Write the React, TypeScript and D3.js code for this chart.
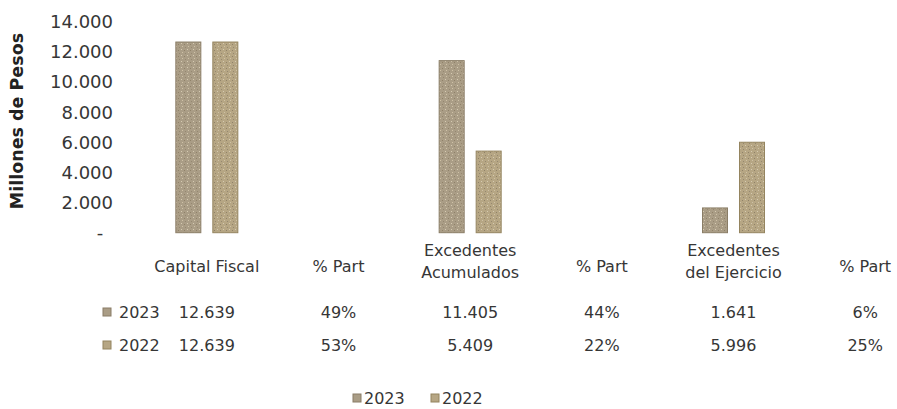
import * as d3 from 'd3';

// Data
const categories = [
  'Capital Fiscal',
  '% Part',
  'Excedentes Acumulados',
  '% Part ',
  'Excedentes del Ejercicio',
  '% Part  ',
];
const headerLines = [
  ['Capital Fiscal'],
  ['% Part'],
  ['Excedentes', 'Acumulados'],
  ['% Part'],
  ['Excedentes', 'del Ejercicio'],
  ['% Part'],
];
const seriesNames = ['2023', '2022'];
const values2023 = [12639, 0.49, 11405, 0.44, 1641, 0.06];
const values2022 = [12639, 0.53, 5409, 0.22, 5996, 0.25];
const labels2023 = ['12.639', '49%', '11.405', '44%', '1.641', '6%'];
const labels2022 = ['12.639', '53%', '5.409', '22%', '5.996', '25%'];
const yTicks = [0, 2000, 4000, 6000, 8000, 10000, 12000, 14000];

const W = 897;
const H = 409;
const FONT = '"DejaVu Sans", sans-serif';
const TEXT = '#363636';
const fills = ['#aa9d86', '#b6a684'];
const edges = ['#8a7d66', '#94845f'];

export default function App() {
  const x = d3.scaleBand<string>().domain(categories).range([141, 931]).padding(0);
  const step = x.step();
  const groupW = 62;
  const xSub = d3
    .scaleBand<string>()
    .domain(seriesNames)
    .range([(step - groupW) / 2, (step + groupW) / 2])
    .paddingInner(12 / 37);
  const y = d3.scaleLinear().domain([0, 14000]).range([232.7, 21.5]);
  const fmt = (v: number) => (v === 0 ? '-' : d3.format(',')(v).replace(/,/g, '.'));

  const series = [values2023, values2022];
  const rowLabels = [labels2023, labels2022];
  const rowY = [318, 351];

  return (
    <svg
      width={W}
      height={H}
      style={{ position: 'absolute', left: 0, top: 0, background: '#fff' }}
      fontFamily={FONT}
    >
      <defs>
        {fills.map((c, i) => (
          <pattern key={i} id={`tex${i}`} width={6} height={6} patternUnits="userSpaceOnUse">
            <rect width={6} height={6} fill={c} />
            <rect x={1} y={1} width={1} height={1} fill="#d6cbb2" />
            <rect x={4} y={2} width={1} height={1} fill="#8f8168" />
            <rect x={2} y={4} width={1} height={1} fill="#cfc2a6" />
            <rect x={5} y={5} width={1} height={1} fill="#958870" />
          </pattern>
        ))}
      </defs>

      {/* Y axis title */}
      <text
        transform={`translate(23, ${y(7400)}) rotate(-90)`}
        textAnchor="middle"
        fontSize={17.5}
        fontWeight="bold"
        fill="#222"
      >
        Millones de Pesos
      </text>

      {/* Y ticks */}
      {yTicks.map((t) => (
        <text
          key={t}
          x={t === 0 ? 100 : 113}
          y={y(t)}
          textAnchor={t === 0 ? 'middle' : 'end'}
          dominantBaseline="central"
          fontSize={18}
          fill={TEXT}
        >
          {fmt(t)}
        </text>
      ))}

      {/* Bars */}
      {categories.map((cat, ci) =>
        series.map((vals, si) => {
          const bx = (x(cat) ?? 0) + (xSub(seriesNames[si]) ?? 0);
          const top = y(vals[ci]);
          const h = y(0) - top;
          if (h < 1) return null;
          return (
            <rect
              key={`${ci}-${si}`}
              x={bx}
              y={top}
              width={xSub.bandwidth()}
              height={h}
              fill={`url(#tex${si})`}
              stroke={edges[si]}
              strokeWidth={1}
            />
          );
        })
      )}

      {/* Data table header */}
      {categories.map((cat, ci) => {
        const cx = (x(cat) ?? 0) + step / 2;
        const lines = headerLines[ci];
        const y0 = lines.length === 1 ? 272 : 256;
        return (
          <text key={cat} x={cx} y={y0} textAnchor="middle" fontSize={16} fill={TEXT}>
            {lines.map((l, li) => (
              <tspan key={li} x={cx} y={y0 + li * 22}>
                {l}
              </tspan>
            ))}
          </text>
        );
      })}

      {/* Data table rows */}
      {rowLabels.map((row, ri) => (
        <g key={ri}>
          <rect x={103} y={rowY[ri] - 10} width={8} height={8} fill={fills[ri]} stroke={edges[ri]} />
          <text x={119} y={rowY[ri]} fontSize={16} fill={TEXT}>
            {seriesNames[ri]}
          </text>
          {row.map((lbl, ci) => (
            <text
              key={ci}
              x={(x(categories[ci]) ?? 0) + step / 2}
              y={rowY[ri]}
              textAnchor="middle"
              fontSize={16}
              fill={TEXT}
            >
              {lbl}
            </text>
          ))}
        </g>
      ))}

      {/* Legend */}
      {seriesNames.map((s, i) => (
        <g key={s} transform={`translate(${353 + i * 78}, 404)`}>
          <rect x={0} y={-10} width={8} height={8} fill={fills[i]} stroke={edges[i]} />
          <text x={11} y={0} fontSize={16} fill={TEXT}>
            {s}
          </text>
        </g>
      ))}
    </svg>
  );
}
